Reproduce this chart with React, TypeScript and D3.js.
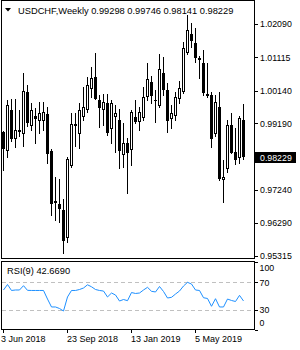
import React from "react";
import * as d3 from "d3";

const symbolTitle = "USDCHF,Weekly";
const ohlcText = ["0.99298", "0.99746", "0.98141", "0.98229"];

const opens = [0.98936, 0.98411, 0.99579, 0.98761, 0.98995, 0.98907, 1.00104, 0.99141, 0.99404, 0.99287, 0.99287, 0.99462, 0.98382, 0.96922, 0.96834, 0.96659, 0.95870, 0.97973, 0.99141, 0.98907, 0.99404, 0.99608, 1.00221, 1.00542, 0.99871, 0.99608, 0.99783, 0.99053, 0.99404, 0.99287, 0.98294, 0.98615, 0.98440, 0.99374, 0.99258, 0.99374, 0.99988, 1.00396, 0.99871, 0.99725, 1.00659, 1.00163, 0.99345, 0.99433, 0.99929, 1.00134, 1.01272, 1.01798, 1.01535, 1.01097, 1.00951, 1.00017, 1.00017, 0.98907, 0.99666, 0.97564, 0.97885, 0.99141, 0.98352, 0.98206, 0.99298];
const highs = [0.98966, 0.99871, 0.99900, 0.99900, 0.99579, 1.00659, 1.00309, 0.99783, 0.99637, 0.99812, 0.99812, 0.99666, 0.98440, 0.97622, 0.97564, 0.96980, 0.98206, 0.99491, 0.99491, 0.99783, 1.00250, 1.00542, 1.00834, 1.01243, 1.00017, 1.00046, 1.00046, 0.99871, 0.99725, 0.99608, 0.99199, 0.98761, 0.99579, 0.99871, 0.99666, 1.00250, 1.00951, 1.00572, 1.00163, 1.01214, 1.01126, 1.00367, 0.99725, 1.00104, 1.00426, 1.01564, 1.02353, 1.02119, 1.01973, 1.01155, 1.01331, 1.00951, 1.00104, 1.00017, 1.00104, 0.98119, 0.99287, 0.99491, 0.99053, 0.99404, 0.99746];
const lows = [0.97827, 0.98206, 0.98674, 0.98498, 0.98820, 0.98528, 0.99112, 0.98995, 0.98615, 0.98907, 0.98995, 0.98031, 0.96513, 0.96367, 0.96308, 0.95403, 0.95718, 0.97914, 0.98528, 0.98469, 0.99287, 0.99520, 0.99958, 0.99900, 0.99082, 0.99141, 0.98849, 0.98615, 0.98352, 0.97885, 0.97914, 0.97155, 0.97973, 0.99199, 0.98995, 0.99287, 0.99871, 0.99783, 0.99228, 0.99666, 1.00017, 0.98936, 0.99053, 0.99287, 0.99783, 1.00075, 1.01214, 1.01418, 1.00980, 1.00513, 1.00017, 0.99958, 0.98498, 0.98820, 0.97535, 0.96892, 0.97768, 0.98323, 0.98002, 0.98031, 0.98141];
const closes = [0.98469, 0.99725, 0.98761, 0.98995, 0.98966, 1.00134, 0.99228, 0.99579, 0.99345, 0.99491, 0.99520, 0.98323, 0.96863, 0.96892, 0.96718, 0.95778, 0.98148, 0.99170, 0.99170, 0.99579, 0.99666, 1.00309, 1.00513, 0.99929, 0.99666, 0.99812, 0.98936, 0.99783, 0.99491, 0.98411, 0.98615, 0.98352, 0.99520, 0.99258, 0.99520, 0.99958, 1.00484, 1.00017, 0.99880, 1.00776, 1.00192, 0.99287, 0.99491, 0.99958, 1.00221, 1.01389, 1.01915, 1.01623, 1.01126, 1.01068, 1.00104, 1.00040, 0.98761, 0.99812, 0.97593, 0.97622, 0.99141, 0.98352, 0.98148, 0.99345, 0.98229];

const rsiValues = [58.7, 66.7, 58, 58.7, 58.7, 65, 58.2, 58, 58, 58, 58, 45.5, 33.9, 33.9, 31.7, 28, 48.5, 58, 58, 59.4, 61.6, 66.3, 63.4, 59.4, 58, 57.2, 48.5, 54.3, 51.4, 42.6, 44.8, 43.1, 55, 53.6, 54.3, 58.7, 62.6, 56.8, 55.8, 63.8, 56.5, 47, 48, 52.8, 57.2, 64.5, 69.9, 67.4, 58.7, 58, 47.4, 46.3, 34.9, 46, 33.9, 33.9, 45.5, 43.4, 41.9, 50.9, 42.669];
const rsiLabel = "RSI(9) 42.6690";

const priceTicks = [1.0209, 1.01115, 1.0014, 0.9919, 0.9724, 0.9629, 0.95315];
const priceTickLabels = ["1.02090", "1.01115", "1.00140", "0.99190", "0.97240", "0.96290", "0.95315"];
const rsiLevels = [100, 70, 30, 0];
const rsiDashLevels = [70, 30];
const dateTickIndex = [0, 16, 32, 48];
const dateTickLabels = ["3 Jun 2018", "23 Sep 2018", "13 Jan 2019", "5 May 2019"];
const lastPrice = 0.98229;

const FONT = "'Liberation Sans', Arial, sans-serif";

export default function App() {
  const n = closes.length;
  const x = d3.scaleLinear().domain([0, n - 1]).range([3, 243]);
  const y = d3.scaleLinear().domain([0.95315, 1.0209]).range([256, 24]);
  const ry = d3.scaleLinear().domain([0, 100]).range([330.2, 261.7]);

  const col = (i: number) => Math.round(x(i));
  const line = d3
    .line<number>()
    .x((_, i) => col(i) + 0.5)
    .y((v) => ry(v));

  const right = 254.5;

  return (
    <svg
      width={300}
      height={350}
      style={{ position: "absolute", left: 0, top: 0, background: "#fff" }}
      fontFamily={FONT}
    >
      <rect x={0} y={0} width={300} height={350} fill="#fff" />
      {/* candles */}
      <g shapeRendering="crispEdges">
        {closes.map((c, i) => {
          const cx = col(i);
          const o = opens[i];
          const yo = Math.round(y(o));
          const yc = Math.round(y(c));
          const yh = Math.round(y(highs[i]));
          const yl = Math.round(y(lows[i]));
          const bull = c >= o;
          const top = Math.min(yo, yc);
          const h = Math.max(Math.abs(yo - yc), 0);
          return (
            <g key={i}>
              <line x1={cx + 0.5} x2={cx + 0.5} y1={yh} y2={yl + 1} stroke="#000" strokeWidth={1} />
              <rect
                x={cx - 0.5}
                y={top + 0.5}
                width={2}
                height={Math.max(h, 0.001)}
                fill={bull ? "#fff" : "#000"}
                stroke="#000"
                strokeWidth={1}
              />
            </g>
          );
        })}
      </g>

      {/* frames */}
      <g shapeRendering="crispEdges" stroke="#000" fill="none" strokeWidth={1}>
        <rect x={1.5} y={0.5} width={right - 1.5} height={258} />
        <rect x={1.5} y={261.5} width={right - 1.5} height={68} />
      </g>

      {/* title */}
      <path d="M5,8 L11,8 L8,11.5 Z" fill="#000" />
      <text x={18} y={13.5} fontSize={9.3} fill="#000">
        {symbolTitle + "  " + ohlcText.join(" ")}
      </text>

      {/* price axis */}
      <g shapeRendering="crispEdges">
        {priceTicks.map((p, i) => (
          <g key={i}>
            <line x1={255} x2={258} y1={Math.round(y(p)) + 0.5} y2={Math.round(y(p)) + 0.5} stroke="#000" />
            <text x={260} y={y(p) + 3.3} fontSize={8.8} fill="#000">
              {priceTickLabels[i]}
            </text>
          </g>
        ))}
      </g>
      <g>
        <rect x={255} y={Math.round(y(lastPrice)) - 4} width={41} height={11} fill="#000" />
        <text x={260} y={Math.round(y(lastPrice)) + 4.5} fontSize={8.8} fill="#fff">
          {lastPrice.toFixed(5)}
        </text>
      </g>

      {/* RSI */}
      <g shapeRendering="crispEdges">
        {rsiDashLevels.map((v) => (
          <line
            key={v}
            x1={2}
            x2={254}
            y1={Math.round(ry(v)) + 0.5}
            y2={Math.round(ry(v)) + 0.5}
            stroke="#c0c0c0"
            strokeDasharray="4,3"
          />
        ))}
      </g>
      <path d={line(rsiValues) || ""} fill="none" stroke="#1e90ff" strokeWidth={1} />
      <text x={7} y={273.5} fontSize={9.3} fill="#000">
        {rsiLabel}
      </text>
      {rsiLevels.map((v) => {
        const yy = Math.min(Math.max(ry(v), 268), 323);
        return (
          <g key={v}>
            <line x1={255} x2={258} y1={Math.round(ry(v)) + 0.5} y2={Math.round(ry(v)) + 0.5} stroke="#000" shapeRendering="crispEdges" />
            <text x={259.5} y={yy + 3.3} fontSize={8.8} fill="#000">
              {String(v)}
            </text>
          </g>
        );
      })}

      {/* date axis */}
      {dateTickIndex.map((idx, i) => (
        <g key={idx}>
          <line x1={col(idx) + 0.5} x2={col(idx) + 0.5} y1={330} y2={333} stroke="#000" shapeRendering="crispEdges" />
          <text x={idx === 0 ? 1 : col(idx)} y={341.5} fontSize={9} fill="#000">
            {dateTickLabels[i]}
          </text>
        </g>
      ))}
    </svg>
  );
}
